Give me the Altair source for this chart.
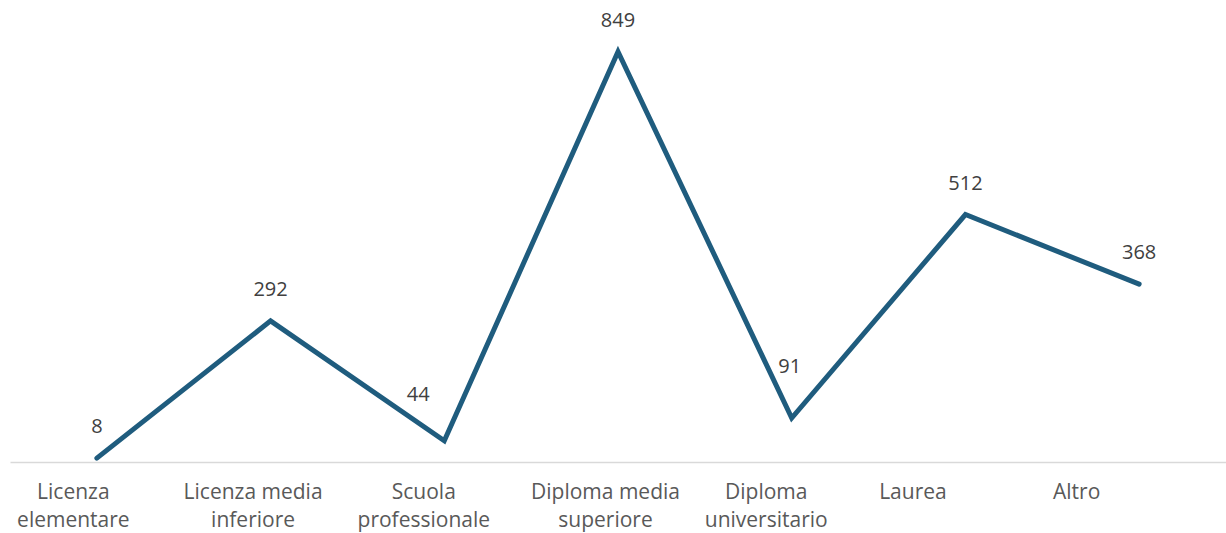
import altair as alt
import pandas as pd

categories = ["Licenza elementare", "Licenza media inferiore", "Scuola professionale",
              "Diploma media superiore", "Diploma universitario", "Laurea", "Altro"]
values = [8, 292, 44, 849, 91, 512, 368]

df = pd.DataFrame({"cat": categories, "val": values})

FONT = "Open Sans"
# style: horizontal nudges of the category labels (px), as in the reference layout
label_nudge = {"Licenza elementare": -24, "Licenza media inferiore": -18,
               "Scuola professionale": -21, "Diploma media superiore": -13,
               "Diploma universitario": -26, "Laurea": -53, "Altro": -63}

label_expr = ("indexof(datum.label, ' ') >= 0 ? "
              "[substring(datum.label, 0, lastindexof(datum.label, ' ')), "
              "substring(datum.label, lastindexof(datum.label, ' ') + 1)] : datum.label")

offset_cond = {"condition": [{"test": f"datum.value == '{k}'", "value": v}
                             for k, v in label_nudge.items()], "value": 0}

x = alt.X("cat:N", sort=categories, title=None,
          scale=alt.Scale(type="point", padding=0.5),
          axis=alt.Axis(labelExpr=label_expr, labelAngle=0, ticks=False, grid=False,
                        domainColor="#d9d9d9", domainWidth=1.5,
                        labelFont=FONT, labelFontSize=21, labelColor="#595959",
                        labelPadding=19, labelLineHeight=28, labelBaseline="top",
                        labelOffset=offset_cond))
y = alt.Y("val:Q", scale=alt.Scale(domain=[0, 900], nice=False), axis=None)

base = alt.Chart(df).encode(x=x, y=y)
line = base.mark_line(color="#1F5C7E", strokeWidth=5, strokeCap="round", strokeJoin="miter")

txt_style = dict(font=FONT, fontSize=20, color="#404040")
text_main = base.transform_filter(
    "datum.cat != 'Scuola professionale' && datum.cat != 'Diploma universitario'"
).mark_text(dy=-31, **txt_style).encode(text="val:Q")
text_44 = base.transform_filter("datum.cat == 'Scuola professionale'").mark_text(
    dx=-26, dy=-46, **txt_style).encode(text="val:Q")
text_91 = base.transform_filter("datum.cat == 'Diploma universitario'").mark_text(
    dx=-2, dy=-51, **txt_style).encode(text="val:Q")

chart = (line + text_main + text_44 + text_91).properties(
    width=1216, height=435,
    autosize=alt.AutoSizeParams(type="none"),
    padding={"left": 10, "top": 27, "right": 0, "bottom": 71},
).configure_view(stroke=None)

chart.save("out.html", embed_options={"renderer": "svg", "actions": False})
